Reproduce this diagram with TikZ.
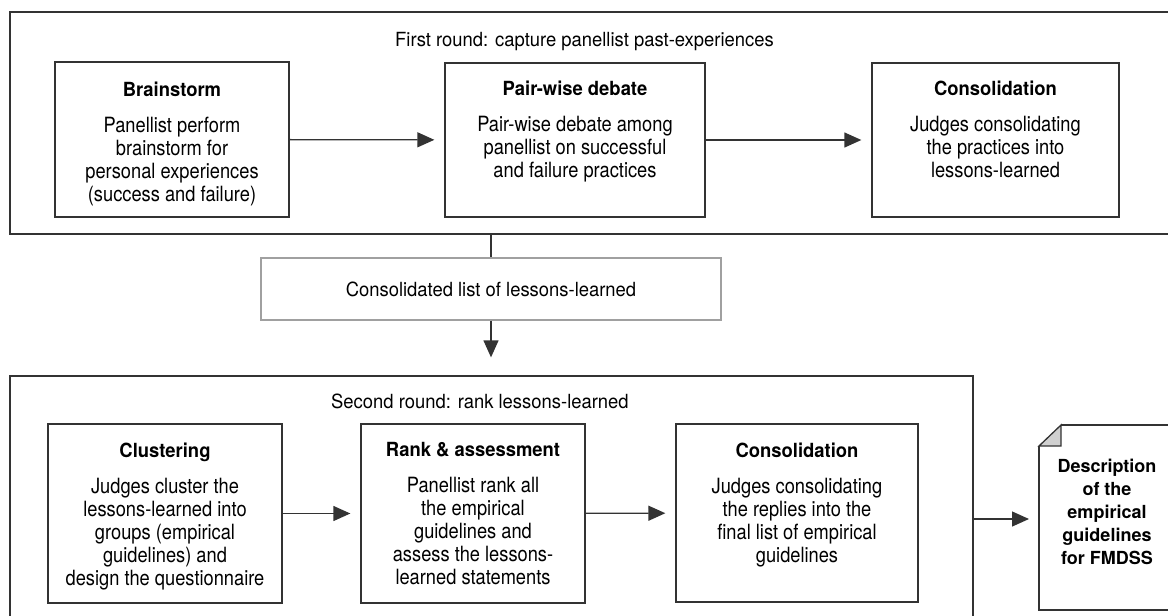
\documentclass[tikz,border=0pt]{standalone}
\usepackage{fontspec}
\setmainfont[FakeStretch=0.945]{TeX Gyre Heros}
\newfontfamily\bodyfont[FakeStretch=0.87]{TeX Gyre Heros}
\newfontfamily\docfont{TeX Gyre Heros}
\usetikzlibrary{positioning,arrows.meta}
\definecolor{linegray}{HTML}{333333}
\definecolor{listgray}{HTML}{A0A0A0}
\definecolor{foldgray}{HTML}{D0D0D0}
\newcommand{\steptitle}[1]{{\normalfont\bfseries\fontsize{19.5pt}{23pt}\selectfont #1}}
\tikzset {
    round frame/.style={
        draw=linegray,
        line width=1.3pt,
        rectangle, % outer frame of a round
        inner sep=0pt,
    },
    step box/.style={
        draw=linegray,
        line width=1.3pt,
        rectangle, % one step inside a round
        inner sep=0pt,
        minimum width=234pt,
    },
    step text/.style={
        inner sep=0pt,
        align=center,
        text=black,
        font=\bodyfont\fontsize{21pt}{23pt}\selectfont,
    },
    list box/.style={
        draw=listgray,
        line width=1.3pt,
        rectangle,
        minimum width=460pt,
        minimum height=62pt,
        text=black,
    },
    flow/.style={
        draw=linegray,
        line width=1.3pt,
        -{Triangle[length=17pt,width=15pt]},
        shorten >=10pt,
    },
}
\begin{document}
\begin{tikzpicture}
[x=1pt, y=-1pt, font=\fontsize{19.5pt}{23pt}\selectfont]
\useasboundingbox (0,0) rectangle (1168,616);
\clip (0,0) rectangle (1168,616);

% first round
\node[round frame, minimum width=1172pt, minimum height=222pt] (first) at (596,123) {};
\node[anchor=base west, inner sep=0pt] (firsttitle) at (395,46) {First round: capture panellist past-experiences};
\node[step box, minimum height=155pt] (brain) at (172,139.5) {};
\node[step box, minimum width=260pt, minimum height=154pt] (pair) at (575,140) {};
\node[step box, minimum width=247pt, minimum height=154pt] (cons) at (995.5,140) {};
\node[step text, below=20pt of brain.north] (braintext) {\steptitle{Brainstorm}\\[13pt] Panellist perform\\ brainstorm for\\ personal experiences\\ (success and failure)};
\node[step text, below=18pt of pair.north] (pairtext) {\steptitle{Pair-wise debate}\\[13pt] Pair-wise debate among\\ panellist on successful\\ and failure practices};
\node[step text, below=18pt of cons.north] (constext) {\steptitle{Consolidation}\\[13pt] Judges consolidating\\ the practices into\\ lessons-learned};

% list of lessons-learned
\node[list box] (list) at (491,289) {Consolidated list of lessons-learned};

% second round
\node[round frame, minimum width=963pt, minimum height=260pt] (second) at (491.5,506) {};
\node[anchor=base west, inner sep=0pt] (secondtitle) at (331,408) {Second round: rank lessons-learned};
\node[step box, minimum height=179pt] (clust) at (165,513.5) {};
\node[step box, minimum width=224pt, minimum height=179pt] (rank) at (473,513.5) {};
\node[step box, minimum width=242pt, minimum height=178pt] (final) at (797,513) {};
\node[step text, below=19pt of clust.north] (clusttext) {\steptitle{Clustering}\\[13pt] Judges cluster the\\ lessons-learned into\\ groups (empirical\\ guidelines) and\\ design the questionnaire};
\node[step text, below=19pt of rank.north] (ranktext) {\steptitle{Rank \& assessment}\\[13pt] Panellist rank all\\ the empirical\\ guidelines and\\ assess the lessons-\\ learned statements};
\node[step text, below=19pt of final.north] (finaltext) {\steptitle{Consolidation}\\[13pt] Judges consolidating\\ the replies into the\\ final list of empirical\\ guidelines};

% output document
\node[step text, font=\docfont\bfseries\fontsize{18pt}{23pt}\selectfont, anchor=north] (doc) at (1107,459) {Description\\ of the\\ empirical\\ guidelines\\ for FMDSS};
\coordinate (docfold) at (1039,446);
\fill[foldgray] (docfold) -- (1061,425) -- (1061,446) -- cycle;
\draw[linegray, line width=1.3pt, line join=miter] (docfold) -- (1061,425) -- (1061,446) -- cycle;
\draw[linegray, line width=1.3pt] (1061,425) -- (1180,425) -- (1180,610) -- (1039,610) -- (docfold);

\draw[flow] (brain) -- (pair);
\draw[flow] (pair) -- (cons);
\draw[linegray, line width=1.3pt] (first.south -| list) -- (list);
\draw[flow, shorten >=18pt] (list) -- (list |- second.north);
\draw[flow] (clust) -- (rank);
\draw[flow] (rank) -- (final);
\draw[flow] (second.east |- 0,519) -- (docfold |- 0,519);
\end{tikzpicture}
\end{document}
